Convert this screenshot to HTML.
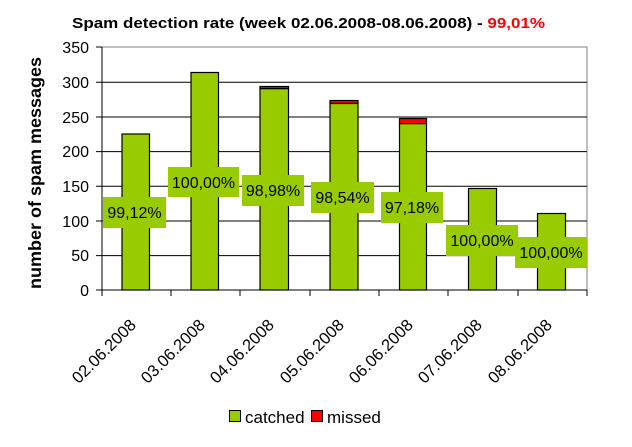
<!DOCTYPE html>
<html><head><meta charset="utf-8"><style>
html,body{margin:0;padding:0;background:#fff}
svg{display:block}
text{font-family:"Liberation Sans",Arial,sans-serif}
</style></head><body>
<svg width="632" height="447" viewBox="0 0 632 447" xmlns="http://www.w3.org/2000/svg">
<text x="72" y="28" font-size="15" font-weight="bold" textLength="473" lengthAdjust="spacingAndGlyphs">Spam detection rate (week 02.06.2008-08.06.2008) - <tspan fill="#ff0000">99,01%</tspan></text>
<rect x="102" y="47" width="485" height="243" fill="#fff" stroke="#808080" stroke-width="1"/>
<g stroke="#000" stroke-width="1">
<line x1="96" y1="82.3" x2="587" y2="82.3"/>
<line x1="96" y1="117" x2="587" y2="117"/>
<line x1="96" y1="151.6" x2="587" y2="151.6"/>
<line x1="96" y1="186.3" x2="587" y2="186.3"/>
<line x1="96" y1="221" x2="587" y2="221"/>
<line x1="96" y1="255.6" x2="587" y2="255.6"/>
<line x1="96" y1="47" x2="102" y2="47"/>
<line x1="96" y1="290" x2="587" y2="290"/>
<line x1="102" y1="47" x2="102" y2="296"/>
<line x1="171" y1="290" x2="171" y2="296"/>
<line x1="240" y1="290" x2="240" y2="296"/>
<line x1="310" y1="290" x2="310" y2="296"/>
<line x1="379" y1="290" x2="379" y2="296"/>
<line x1="448" y1="290" x2="448" y2="296"/>
<line x1="518" y1="290" x2="518" y2="296"/>
<line x1="587" y1="290" x2="587" y2="296"/>
</g>
<g font-size="16" text-anchor="end">
<text x="89" y="53">350</text><text x="89" y="88">300</text><text x="89" y="123">250</text>
<text x="89" y="157">200</text><text x="89" y="192">150</text><text x="89" y="227">100</text>
<text x="89" y="261">50</text><text x="89" y="296">0</text>
</g>
<text transform="translate(41,173) rotate(-90)" font-size="17.5" font-weight="bold" text-anchor="middle" textLength="232" lengthAdjust="spacingAndGlyphs">number of spam messages</text>
<g stroke="#000" stroke-width="1.2">
<rect x="122" y="134" width="27.5" height="156" fill="#99cc00"/>
<rect x="191" y="72.5" width="27.5" height="217.5" fill="#99cc00"/>
<rect x="260" y="86.5" width="28.5" height="2.2" fill="#ff0000"/>
<rect x="260" y="88.7" width="28.5" height="201.3" fill="#99cc00"/>
<rect x="330" y="100.5" width="28" height="3" fill="#ff0000"/>
<rect x="330" y="103.5" width="28" height="186.5" fill="#99cc00"/>
<rect x="399.5" y="118.5" width="27" height="5.2" fill="#ff0000"/>
<rect x="399.5" y="123.7" width="27" height="166.3" fill="#99cc00"/>
<rect x="468.5" y="188.5" width="28" height="101.5" fill="#99cc00"/>
<rect x="537.5" y="213.5" width="28" height="76.5" fill="#99cc00"/>
</g>
<g fill="#99cc00">
<rect x="103" y="197" width="63" height="31"/>
<rect x="168" y="167" width="71" height="30"/>
<rect x="242" y="175" width="62" height="31"/>
<rect x="311" y="182" width="63" height="31"/>
<rect x="381" y="192" width="62" height="31"/>
<rect x="446" y="225" width="72" height="31"/>
<rect x="515" y="237" width="72" height="31"/>
</g>
<g font-size="16" text-anchor="middle">
<text x="134.5" y="218">99,12%</text>
<text x="203.5" y="188">100,00%</text>
<text x="273" y="196">98,98%</text>
<text x="342.5" y="203">98,54%</text>
<text x="412" y="213">97,18%</text>
<text x="482" y="246">100,00%</text>
<text x="551" y="258">100,00%</text>
</g>
<g font-size="16.5" text-anchor="end">
<text transform="translate(137,326) rotate(-45)">02.06.2008</text>
<text transform="translate(206,326) rotate(-45)">03.06.2008</text>
<text transform="translate(275,326) rotate(-45)">04.06.2008</text>
<text transform="translate(345,326) rotate(-45)">05.06.2008</text>
<text transform="translate(414,326) rotate(-45)">06.06.2008</text>
<text transform="translate(483,326) rotate(-45)">07.06.2008</text>
<text transform="translate(553,326) rotate(-45)">08.06.2008</text>
</g>
<rect x="229.5" y="410.5" width="11" height="11" fill="#99cc00" stroke="#000"/>
<text x="245" y="423" font-size="17">catched</text>
<rect x="311.5" y="410.5" width="11" height="11" fill="#ff0000" stroke="#000"/>
<text x="327" y="423" font-size="17">missed</text>
</svg>
</body></html>
